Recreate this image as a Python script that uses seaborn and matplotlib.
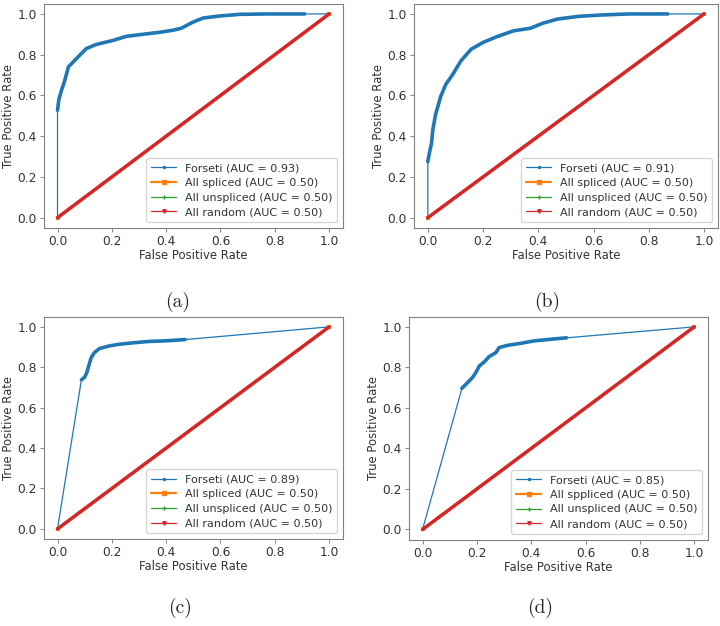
import matplotlib
matplotlib.use("Agg")
import matplotlib.pyplot as plt
from matplotlib.lines import Line2D
import seaborn as sns

# ROC points (fpr, tpr)
fpr_a = [0.0, 0.0, 0.005, 0.0135, 0.026, 0.04, 0.069, 0.106, 0.142, 0.204, 0.253, 0.314,
         0.376, 0.425, 0.456, 0.499, 0.536, 0.597, 0.671, 0.77, 0.91, 1.0]
tpr_a = [0.0, 0.527, 0.58, 0.62, 0.67, 0.74, 0.78, 0.83, 0.85, 0.87, 0.89, 0.90,
         0.91, 0.92, 0.93, 0.96, 0.98, 0.99, 0.998, 1.0, 1.0, 1.0]

fpr_b = [0.0, 0.0, 0.006, 0.0135, 0.018, 0.028, 0.047, 0.065, 0.09, 0.12, 0.157, 0.2,
         0.249, 0.31, 0.372, 0.415, 0.47, 0.544, 0.63, 0.728, 0.869, 1.0]
tpr_b = [0.0, 0.275, 0.32, 0.366, 0.43, 0.506, 0.596, 0.654, 0.703, 0.77, 0.827, 0.86,
         0.888, 0.917, 0.93, 0.954, 0.975, 0.988, 0.995, 1.0, 1.0, 1.0]

fpr_c = [0.0, 0.088, 0.0995, 0.108, 0.115, 0.124, 0.136, 0.155, 0.192, 0.228, 0.278,
         0.339, 0.4, 0.47, 1.0]
tpr_c = [0.0, 0.738, 0.75, 0.774, 0.807, 0.848, 0.873, 0.893, 0.906, 0.914, 0.921,
         0.928, 0.931, 0.937, 1.0]

fpr_d = [0.0, 0.145, 0.166, 0.184, 0.196, 0.209, 0.227, 0.245, 0.27, 0.282, 0.313,
         0.362, 0.411, 0.472, 0.53, 1.0]
tpr_d = [0.0, 0.697, 0.725, 0.75, 0.774, 0.807, 0.827, 0.853, 0.873, 0.898, 0.909,
         0.919, 0.931, 0.939, 0.946, 1.0]

auc_forseti = [0.93, 0.91, 0.89, 0.85]
baseline_auc = 0.50
baseline_fpr = [0.0, 1.0]
baseline_tpr = [0.0, 1.0]
spliced_names = ["All spliced", "All spliced", "All spliced", "All sppliced"]
captions = ["(a)", "(b)", "(c)", "(d)"]

# dense (thick) part of each Forseti curve: index range into the arrays
dense = [(1, 21), (1, 21), (1, 14), (1, 15)]

curves = [(fpr_a, tpr_a), (fpr_b, tpr_b), (fpr_c, tpr_c), (fpr_d, tpr_d)]

sns.set_theme(style="white")
plt.rcParams["font.family"] = ["DejaVu Sans"]

blue, orange, green, red = sns.color_palette("tab10")[:4]
txt = "0.2"

fig = plt.figure(figsize=(7.2, 6.26), dpi=100)
rects = [
    [0.061, 0.636, 0.415, 0.358],
    [0.575, 0.636, 0.422, 0.358],
    [0.061, 0.139, 0.415, 0.355],
    [0.568, 0.138, 0.415, 0.356],
]
cap_pos = [(0.247, 0.518), (0.760, 0.518), (0.250, 0.029), (0.750, 0.029)]

for i, ((fx, ty), rect) in enumerate(zip(curves, rects)):
    ax = fig.add_axes(rect)
    lo, hi = dense[i]
    sns.lineplot(x=fx, y=ty, ax=ax, sort=False, estimator=None, color=blue,
                 lw=0.9, legend=False)
    sns.lineplot(x=fx[lo:hi], y=ty[lo:hi], ax=ax, sort=False, estimator=None,
                 color=blue, lw=2.6, legend=False)
    sns.lineplot(x=baseline_fpr, y=baseline_tpr, ax=ax, sort=False, estimator=None,
                 color=orange, lw=2.0, marker="s", markersize=3, markeredgewidth=0,
                 legend=False)
    sns.lineplot(x=baseline_fpr, y=baseline_tpr, ax=ax, sort=False, estimator=None,
                 color=green, lw=1.0, legend=False)
    sns.lineplot(x=baseline_fpr, y=baseline_tpr, ax=ax, sort=False, estimator=None,
                 color=red, lw=2.5, legend=False)

    ax.set_xlim(-0.05, 1.05)
    ax.set_ylim(-0.05, 1.05)
    ax.set_xticks([0, 0.2, 0.4, 0.6, 0.8, 1.0])
    ax.set_yticks([0, 0.2, 0.4, 0.6, 0.8, 1.0])
    ax.tick_params(labelsize=8.8, length=3, width=0.6, colors=txt,
                   bottom=True, left=True, pad=2)
    ax.tick_params(color="0.45")
    ax.set_xlabel("False Positive Rate", fontsize=8.4, labelpad=1, color=txt)
    ax.set_ylabel("True Positive Rate", fontsize=8.4, labelpad=2, color=txt)
    for s in ax.spines.values():
        s.set_color("0.5")
        s.set_linewidth(0.8)

    handles = [
        Line2D([], [], color=blue, lw=0.9, marker=".", markersize=3),
        Line2D([], [], color=orange, lw=1.6, marker="s", markersize=2.5),
        Line2D([], [], color=green, lw=0.9, marker="+", markersize=3),
        Line2D([], [], color=red, lw=0.9, marker="v", markersize=2.5),
    ]
    labels = [
        f"Forseti (AUC = {auc_forseti[i]:.2f})",
        f"{spliced_names[i]} (AUC = {baseline_auc:.2f})",
        f"All unspliced (AUC = {baseline_auc:.2f})",
        f"All random (AUC = {baseline_auc:.2f})",
    ]
    leg = ax.legend(handles, labels, loc="lower right", fontsize=8.0, frameon=True,
                    handlelength=2.2, borderpad=0.45, labelspacing=0.42,
                    edgecolor="0.8", fancybox=True)
    for t in leg.get_texts():
        t.set_color(txt)

    fig.text(cap_pos[i][0], cap_pos[i][1], captions[i], ha="center", va="center",
             fontsize=14, family="cmr10")

fig.savefig("out.png", dpi=100)
